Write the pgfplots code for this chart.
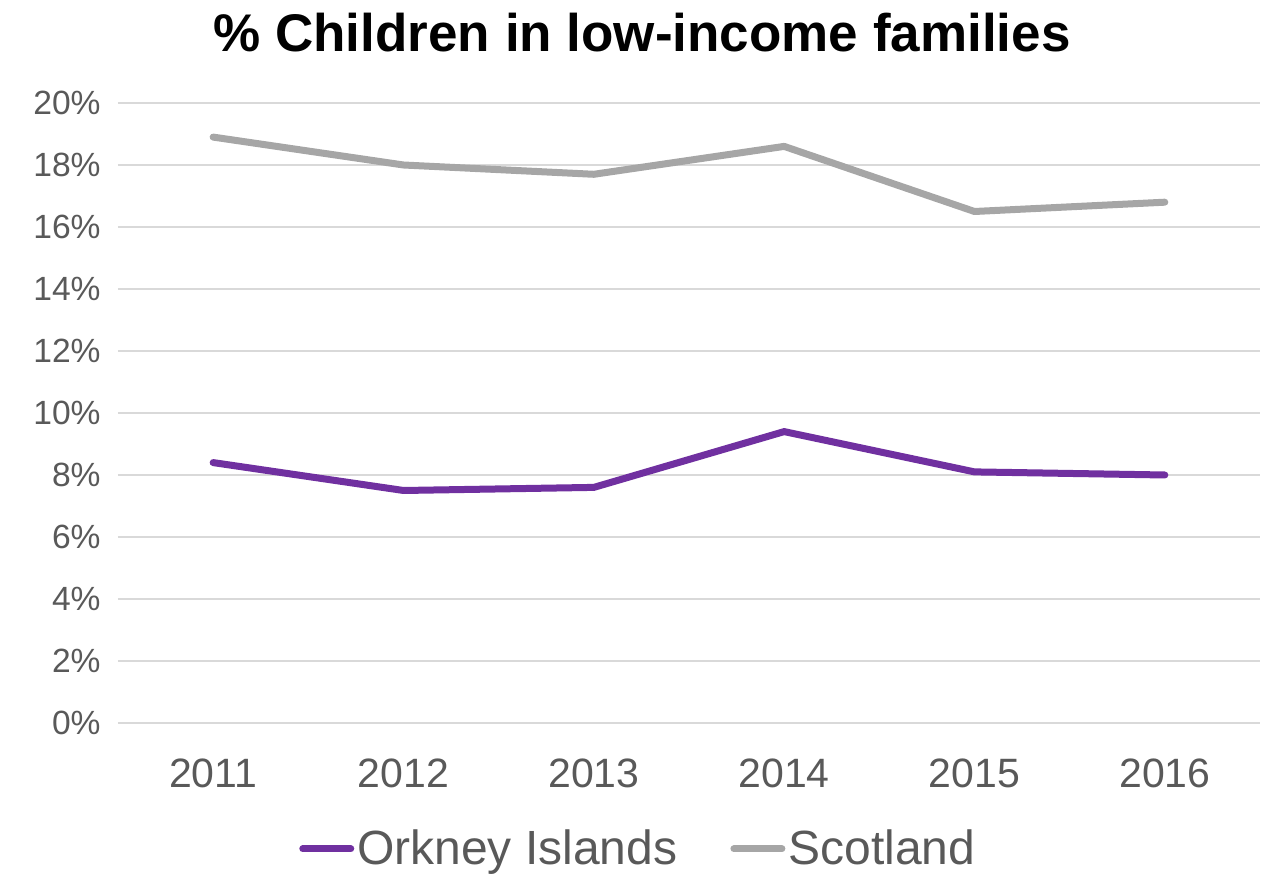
\documentclass[border=0pt]{standalone}
\usepackage{pgfplots}
\pgfplotsset{compat=1.18}
\usepackage{fontspec}
\setmainfont{Liberation Sans}
\definecolor{orkney}{HTML}{7030A0}
\definecolor{scot}{HTML}{A6A6A6}
\definecolor{ticktxt}{HTML}{595959}
\definecolor{gridc}{HTML}{D9D9D9}
\begin{document}
\begin{tikzpicture}
\useasboundingbox (-59pt,-77pt) rectangle (574pt,361.5pt);
\begin{axis}[
  scale only axis, width=571pt, height=310pt,
  xmin=2010.5, xmax=2016.5, ymin=0, ymax=20,
  xtick={2011,2012,2013,2014,2015,2016},
  ytick={0,2,4,6,8,10,12,14,16,18,20},
  yticklabel={\pgfmathprintnumber{\tick}\%},
  xticklabel style={/pgf/number format/1000 sep={}},
  /pgf/number format/assume math mode=true,
  axis line style={draw=none},
  tick style={draw=none},
  ymajorgrids, grid style={gridc, line width=0.75pt},
  tick label style={text=ticktxt},
  yticklabel style={font=\fontsize{16.8}{19}\selectfont, inner sep=0pt, anchor=east, xshift=-8.5pt},
  xticklabel style={font=\fontsize{20.5}{24}\selectfont, inner sep=0pt, anchor=north, yshift=-17.5pt},
  clip=false,
  legend style={at={(axis description cs:0.456,-0.203)}, anchor=center, draw=none, fill=none,
    font=\fontsize{24}{28}\selectfont, text=ticktxt,
    /tikz/every even column/.append style={column sep=25pt},
    nodes={inner xsep=1.5pt, inner ysep=0pt},
    inner sep=0pt},
  legend columns=2,
  legend image code/.code={\draw[#1, line width=3.5pt, line cap=round] (0pt,0pt) -- (24pt,0pt);},
  legend cell align=left,
]
\addplot[orkney, line width=3.5pt, line cap=round, line join=round] coordinates {(2011,8.4) (2012,7.5) (2013,7.6) (2014,9.4) (2015,8.1) (2016,8.0)};
\addlegendentry{Orkney Islands}
\addplot[scot, line width=3.5pt, line cap=round, line join=round] coordinates {(2011,18.9) (2012,18.0) (2013,17.7) (2014,18.6) (2015,16.5) (2016,16.8)};
\addlegendentry{Scotland}
\end{axis}
\node[anchor=base, inner sep=0pt, font=\fontsize{26.5}{30}\selectfont\bfseries] at (262pt,335.5pt) {\% Children in low-income families};
\end{tikzpicture}
\end{document}
